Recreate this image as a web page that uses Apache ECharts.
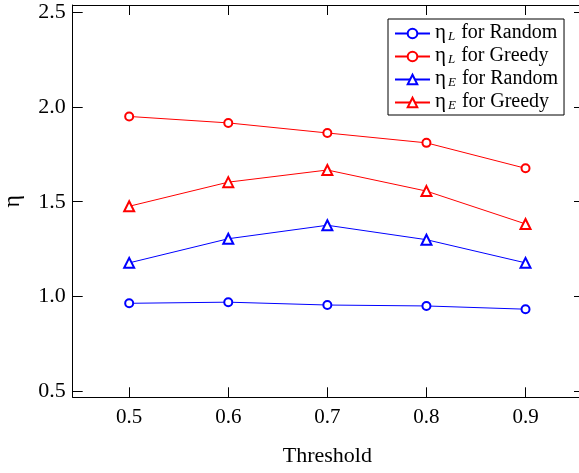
<!DOCTYPE html>
<html>
<head>
<meta charset="utf-8">
<script src="https://cdn.jsdelivr.net/npm/echarts@6/dist/echarts.min.js"></script>
<style>html,body{margin:0;padding:0;background:#fff}#c{width:579px;height:473px}</style>
</head>
<body>
<div id="c"></div>
<script>
const thresholds = [0.5, 0.6, 0.7, 0.8, 0.9];
const xTicks = [0.5, 0.6, 0.7, 0.8, 0.9];
const yTicks = [0.5, 1.0, 1.5, 2.0, 2.5];
const etaLRandom = [0.965, 0.971, 0.956, 0.951, 0.934];
const etaLGreedy = [1.949, 1.915, 1.862, 1.810, 1.676];
const etaERandom = [1.178, 1.305, 1.376, 1.300, 1.178];
const etaEGreedy = [1.476, 1.603, 1.667, 1.556, 1.383];
const seriesNames = ['etaL_Random', 'etaL_Greedy', 'etaE_Random', 'etaE_Greedy'];
const legendTexts = {
  etaL_Random: '{e|η}{s|L}{t|for Random}',
  etaL_Greedy: '{e|η}{s|L}{t|for Greedy}',
  etaE_Random: '{e|η}{s|E}{t|for Random}',
  etaE_Greedy: '{e|η}{s|E}{t|for Greedy}'
};

const FONT = '"Liberation Serif", "Times New Roman", serif';
const pair = arr => thresholds.map((t, i) => [t, arr[i]]);

function mkSeries(name, data, color, symbol, size) {
  return {
    name, type: 'line', data: pair(data),
    symbol, symbolSize: size, showSymbol: true,
    lineStyle: { color, width: 1 },
    itemStyle: { color, borderColor: color, borderWidth: 1 },
    emphasis: { disabled: true },
    animation: false,
    xAxisIndex: 0, yAxisIndex: 0
  };
}

const axisCommon = {
  axisLine: { show: true, onZero: false, lineStyle: { color: '#000', width: 1 } },
  splitLine: { show: false }
};

const chart = echarts.init(document.getElementById('c'));
chart.setOption({
  animation: false,
  grid: { left: 72.7, top: 5, right: -3, bottom: 75.7, containLabel: false, outerBoundsMode: 'none' },
  xAxis: [
    Object.assign({}, axisCommon, {
      type: 'value', min: 0.443, max: 0.957, position: 'bottom',
      name: 'Threshold', nameLocation: 'middle', nameGap: 48,
      nameTextStyle: { fontFamily: FONT, fontSize: 22, color: '#000' },
      axisTick: { show: true, inside: true, length: 10, customValues: xTicks, lineStyle: { color: '#000' } },
      axisLabel: { show: true, customValues: xTicks, margin: 10, fontFamily: FONT, fontSize: 21, color: '#000',
        formatter: v => v.toFixed(1) }
    }),
    Object.assign({}, axisCommon, {
      type: 'value', min: 0.443, max: 0.957, position: 'top',
      axisTick: { show: true, inside: true, length: 10, customValues: xTicks, lineStyle: { color: '#000' } },
      axisLabel: { show: false }
    })
  ],
  yAxis: [
    Object.assign({}, axisCommon, {
      type: 'value', min: 0.47, max: 2.536, position: 'left',
      name: 'η', nameLocation: 'middle', nameGap: 48, nameRotate: 90,
      nameTextStyle: { fontFamily: FONT, fontSize: 24, color: '#000' },
      axisTick: { show: true, inside: true, length: 10, customValues: yTicks, lineStyle: { color: '#000' } },
      axisLabel: { show: true, customValues: yTicks, margin: 7, fontFamily: FONT, fontSize: 22, color: '#000',
        formatter: v => v.toFixed(1) }
    }),
    Object.assign({}, axisCommon, {
      type: 'value', min: 0.47, max: 2.536, position: 'right',
      axisTick: { show: true, inside: true, length: 8, customValues: yTicks, lineStyle: { color: '#000' } },
      axisLabel: { show: false }
    })
  ],
  legend: {
    orient: 'vertical', left: 388, top: 19,
    backgroundColor: '#fff', borderColor: '#000', borderWidth: 1, borderRadius: 0,
    padding: [3, 6, 3, 6], itemGap: 2, itemWidth: 35, itemHeight: 12,
    data: seriesNames,
    formatter: n => legendTexts[n],
    textStyle: {
      fontFamily: FONT, fontSize: 20, color: '#000', lineHeight: 19,
      rich: {
        e: { fontFamily: FONT, fontSize: 21, color: '#000', lineHeight: 19, verticalAlign: 'bottom' },
        s: { fontFamily: FONT, fontSize: 13, fontStyle: 'italic', color: '#000', lineHeight: 12, verticalAlign: 'bottom', padding: [8, 6, 0, 2] },
        t: { fontFamily: FONT, fontSize: 20, color: '#000', lineHeight: 19, verticalAlign: 'bottom' }
      }
    }
  },
  series: [
    mkSeries(seriesNames[0], etaLRandom, '#0000ff', 'emptyCircle', 8),
    mkSeries(seriesNames[1], etaLGreedy, '#ff0000', 'emptyCircle', 8),
    mkSeries(seriesNames[2], etaERandom, '#0000ff', 'emptyTriangle', 10),
    mkSeries(seriesNames[3], etaEGreedy, '#ff0000', 'emptyTriangle', 10)
  ]
});
</script>
</body>
</html>
